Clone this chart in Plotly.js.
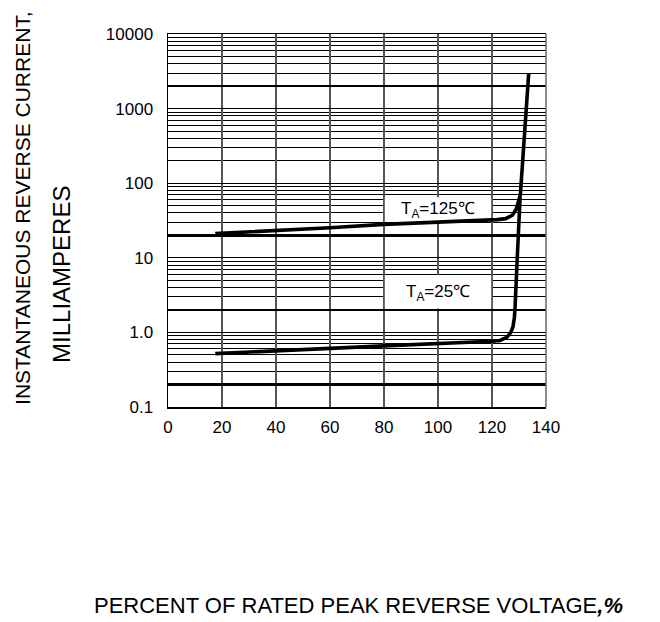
<!DOCTYPE html>
<html>
<head>
<meta charset="utf-8">
<script src="https://cdn.plot.ly/plotly-3.0.1.min.js"></script>
<style>html,body{margin:0;padding:0;background:#fff;}#chart{width:660px;height:622px;}</style>
</head>
<body>
<div id="chart"></div>
<script>
// Data
var x125 = [17.5, 40, 60, 80, 100, 110, 122, 125, 127.5, 129, 130, 130.5, 133.6];
var y125 = [21.1, 22.9, 25.3, 28.1, 30, 31, 32.5, 33.5, 37, 45, 58, 70, 3000];
var x25 = [17.5, 40, 60, 80, 100, 110, 120, 123, 125.5, 127, 127.8, 128.3, 128.5, 129.3, 130.4];
var y25 = [0.52, 0.56, 0.61, 0.66, 0.70, 0.72, 0.76, 0.78, 0.86, 1.0, 1.2, 1.6, 2.0, 9.0, 65];

var yTickVals = [0.1, 1, 10, 100, 1000, 10000];
var yTickText = ['0.1', '1.0', '10', '100', '1000', '10000'];
var yMinorVals = [0.2,0.3,0.4,0.5,0.6,0.7,0.8,0.9, 2,3,4,5,6,7,8,9, 20,30,40,50,60,70,80,90,
                  200,300,400,500,600,700,800,900, 2000,3000,4000,5000,6000,7000,8000,9000];
var yThickVals = [0.2, 2, 20, 2000];
var xTickVals = [0, 20, 40, 60, 80, 100, 120, 140];

var labels = ['T<sub>A</sub>=125\u2103', 'T<sub>A</sub>=25\u2103'];
var labelX = [100, 100];
var labelY = [44.4, 3.4];

var FONT = 'Liberation Sans, Arial, sans-serif';

var traces = [
  {x: x125, y: y125, yaxis: 'y2', mode: 'lines', line: {color: '#000', width: 3.6}, hoverinfo: 'skip', showlegend: false},
  {x: x25, y: y25, mode: 'lines', line: {color: '#000', width: 3.6}, hoverinfo: 'skip', showlegend: false}
];

var layout = {
  width: 660, height: 622,
  margin: {l: 168, r: 114, t: 34, b: 215},
  paper_bgcolor: '#fff', plot_bgcolor: '#fff',
  font: {family: FONT, color: '#000'},
  showlegend: false,
  xaxis: {
    range: [0, 140], tickvals: xTickVals, ticks: '', showgrid: true,
    gridcolor: '#555', gridwidth: 1.2, zeroline: false,
    showline: true, linecolor: '#000', linewidth: 1.5, mirror: true,
    tickfont: {size: 17, family: FONT}, ticklabelstandoff: 4
  },
  yaxis: {
    type: 'log', range: [-1, 4], tickvals: yTickVals, ticktext: yTickText,
    ticks: '', showgrid: true, gridcolor: '#000', gridwidth: 1,
    showline: true, linecolor: '#000', linewidth: 1.5,
    tickfont: {size: 17, family: FONT}, ticklabelstandoff: 10, zeroline: false,
    minor: {tickvals: yMinorVals, showgrid: true, gridcolor: '#000', gridwidth: 1, ticks: ''}
  },
  yaxis2: {
    type: 'log', range: [-1, 4], overlaying: 'y', anchor: 'x', side: 'left',
    tickvals: yThickVals, showticklabels: false, ticks: '',
    showgrid: true, gridcolor: '#000', gridwidth: 2.6, zeroline: false, showline: false
  },
  shapes: [
    {type: 'line', xref: 'paper', yref: 'paper', x0: 1, x1: 1, y0: 0, y1: 1, line: {color: '#666', width: 1.5}},
    {type: 'rect', layer: 'between', xref: 'x', yref: 'y', x0: 80.3, x1: 119.7, y0: 30.2, y1: 64.7,
     fillcolor: '#fff', line: {width: 0}},
    {type: 'rect', layer: 'between', xref: 'x', yref: 'y', x0: 80.3, x1: 119.7, y0: 2.09, y1: 5.88,
     fillcolor: '#fff', line: {width: 0}}
  ],
  annotations: [
    {xref: 'x', yref: 'y', x: labelX[0], y: Math.log10(labelY[0]), text: labels[0], showarrow: false,
     font: {size: 17, family: FONT}},
    {xref: 'x', yref: 'y', x: labelX[1], y: Math.log10(labelY[1]), text: labels[1], showarrow: false,
     font: {size: 17, family: FONT}},
    {xref: 'paper', yref: 'paper', x: 0.505, y: -0.531, yanchor: 'middle', xanchor: 'center', showarrow: false,
     text: 'PERCENT OF RATED PEAK REVERSE VOLTAGE<b><i>,%</i></b>', font: {size: 22, family: FONT}},
    {xref: 'paper', yref: 'paper', x: -0.385, y: 0.535, xanchor: 'center', yanchor: 'middle', textangle: -90, showarrow: false,
     text: 'INSTANTANEOUS REVERSE CURRENT,', font: {size: 21, family: FONT}},
    {xref: 'paper', yref: 'paper', x: -0.2804, y: 0.354, xanchor: 'center', yanchor: 'middle', textangle: -90, showarrow: false,
     text: 'MILLIAMPERES', font: {size: 24, family: FONT}}
  ]
};

Plotly.newPlot('chart', traces, layout, {staticPlot: true, displayModeBar: false});
</script>
</body>
</html>
